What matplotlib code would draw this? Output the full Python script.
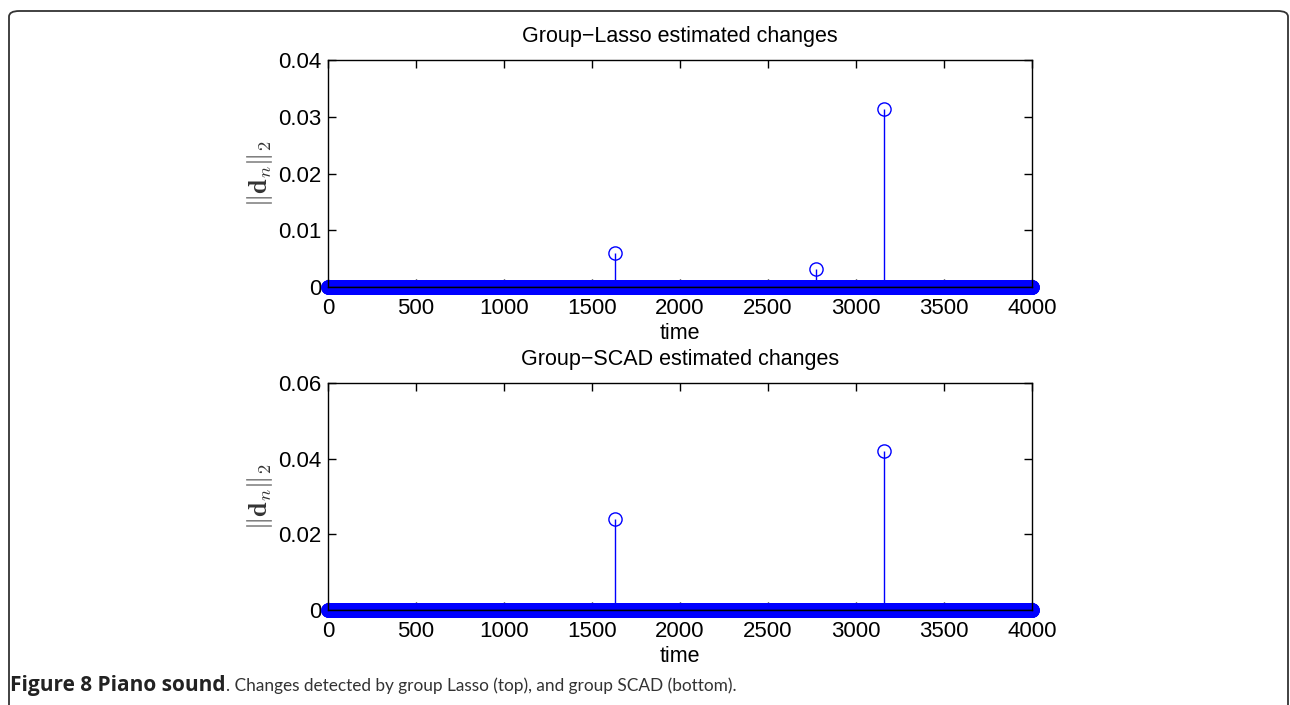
import numpy as np
import matplotlib
matplotlib.use("Agg")
import matplotlib.pyplot as plt
from matplotlib.patches import FancyBboxPatch

# detected change points (time index) and their norms
n_samples = 4000
lasso_times = [1632, 2773, 3157]
lasso_vals = [0.0060, 0.0032, 0.0313]
scad_times = [1632, 3157]
scad_vals = [0.0240, 0.0420]

titles = ["Group\u2212Lasso estimated changes", "Group\u2212SCAD estimated changes"]
ylims = [0.04, 0.06]
yticks = [[0, 0.01, 0.02, 0.03, 0.04], [0, 0.02, 0.04, 0.06]]
ytlabels = [["0", "0.01", "0.02", "0.03", "0.04"], ["0", "0.02", "0.04", "0.06"]]
xticks = [0, 500, 1000, 1500, 2000, 2500, 3000, 3500, 4000]

plt.rcParams['font.family'] = ['Liberation Sans', 'DejaVu Sans']
plt.rcParams['mathtext.fontset'] = 'cm'

fig = plt.figure(figsize=(12.9, 7.05), dpi=100)

# rounded page frame
frame = FancyBboxPatch((9/1290, -0.05), 1 - 11/1290, 1 - 11/705 + 0.05,
                       boxstyle="round,pad=0,rounding_size=0.008",
                       transform=fig.transFigure, fill=False,
                       edgecolor='#333333', linewidth=1.3, clip_on=False)
fig.patches.append(frame)

t = np.arange(1, n_samples + 1)
positions = [[0.2543, 0.5929, 0.5457, 0.3220],
             [0.2543, 0.1348, 0.5457, 0.3220]]
series = [(lasso_times, lasso_vals), (scad_times, scad_vals)]

for i in range(2):
    ax = fig.add_axes(positions[i])
    y = np.zeros(n_samples)
    for tt, vv in zip(*series[i]):
        y[tt - 1] = vv
    ax.vlines(t[y > 0], 0, y[y > 0], color='blue', linewidth=1)
    ax.plot(t, y, linestyle='none', marker='o', markersize=9.5,
            markerfacecolor='none', markeredgecolor='blue', markeredgewidth=1,
            clip_on=False)
    ax.axhline(0, color='black', linewidth=1, zorder=3)
    ax.set_xlim(0, n_samples)
    ax.set_ylim(0, ylims[i])
    ax.set_xticks(xticks)
    ax.set_yticks(yticks[i])
    ax.set_yticklabels(ytlabels[i])
    ax.tick_params(direction='in', length=6, width=1, top=True, right=True,
                   labelsize=16, pad=5)
    ax.tick_params(axis='x', pad=8)
    for s in ax.spines.values():
        s.set_linewidth(1)
    ax.set_title(titles[i], fontsize=15.5, pad=13)
    ax.set_xlabel('time', fontsize=15.5, labelpad=3)
    ax.set_ylabel(r'$\|\mathbf{d}_n\|_2$', fontsize=19, color='#333333', labelpad=2)

cap_y = 1 - 686/705
bold = fig.text(10/1290, cap_y, 'Figure 8 Piano sound', fontsize=15,
                fontweight='bold', family='Open Sans', color='#222222', va='center')
fig.canvas.draw()
bb = bold.get_window_extent()
fig.text(bb.x1 / fig.bbox.width, cap_y,
         '. Changes detected by group Lasso (top), and group SCAD (bottom).',
         fontsize=12.4, family='Lato', color='#333333', va='center')

fig.savefig('out.png', dpi=100)
